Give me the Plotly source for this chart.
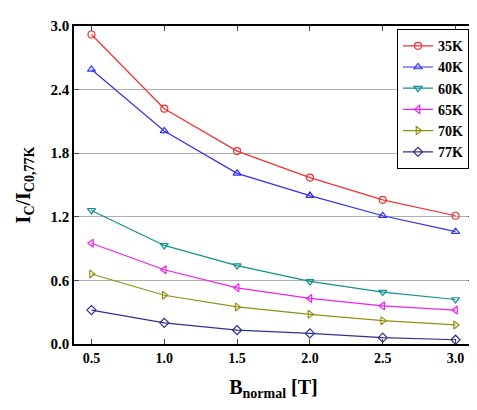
import plotly.graph_objects as go

b_field = [0.5, 1.0, 1.5, 2.0, 2.5, 3.0]
labels = ["35K", "40K", "60K", "65K", "70K", "77K"]
ic_35 = [2.92, 2.22, 1.82, 1.57, 1.36, 1.21]
ic_40 = [2.59, 2.01, 1.61, 1.40, 1.21, 1.06]
ic_60 = [1.26, 0.93, 0.74, 0.59, 0.49, 0.42]
ic_65 = [0.95, 0.70, 0.53, 0.43, 0.36, 0.32]
ic_70 = [0.66, 0.46, 0.35, 0.28, 0.22, 0.18]
ic_77 = [0.32, 0.20, 0.13, 0.10, 0.06, 0.04]
series = [ic_35, ic_40, ic_60, ic_65, ic_70, ic_77]

colors = ["#f03030", "#3030f0", "#109090", "#f020f0", "#909010", "#303090"]
symbols = ["circle-open", "triangle-up-open", "triangle-down-open",
           "triangle-left-open", "triangle-right-open", "diamond-open"]

fig = go.Figure()
for name, vals, c, s in zip(labels, series, colors, symbols):
    fig.add_trace(go.Scatter(x=b_field, y=vals, name="<b>" + name + "</b>", mode="lines+markers",
                             line=dict(color=c, width=1.2),
                             marker=dict(symbol=s, size=7, color=c, line=dict(width=1.2))))

font = "Liberation Serif"
fig.update_layout(
    width=477, height=410, plot_bgcolor="white", paper_bgcolor="white",
    margin=dict(l=66, r=10, t=15, b=74),
    font=dict(family=font, size=14, color="black"),
    legend=dict(x=0.99, y=0.99, xanchor="right", yanchor="top",
                bordercolor="black", borderwidth=1, bgcolor="white",
                font=dict(size=14, family=font), tracegroupgap=0),
    xaxis=dict(range=[0.38, 3.12], tickvals=b_field, ticks="inside", mirror="ticks",
               showline=True, linecolor="black", linewidth=1.5, showgrid=False,
               ticktext=["<b>%.1f</b>" % v for v in b_field], tickfont=dict(size=14),
               title=dict(text="<b>B<sub>normal</sub> [T]</b>", font=dict(size=20))),
    yaxis=dict(range=[0, 3.0], tickvals=[0, 0.6, 1.2, 1.8, 2.4, 3.0],
               ticktext=["<b>0.0</b>", "<b>0.6</b>", "<b>1.2</b>", "<b>1.8</b>", "<b>2.4</b>", "<b>3.0</b>"],
               ticks="inside", mirror="ticks",
               showline=True, linecolor="black", linewidth=1.5,
               showgrid=True, gridcolor="#b0b0b0", tickfont=dict(size=15),
               title=dict(text="<b>I<sub>C</sub>/I<sub>C0,77K</sub></b>", font=dict(size=20))),
)
fig.write_html("out.html")
